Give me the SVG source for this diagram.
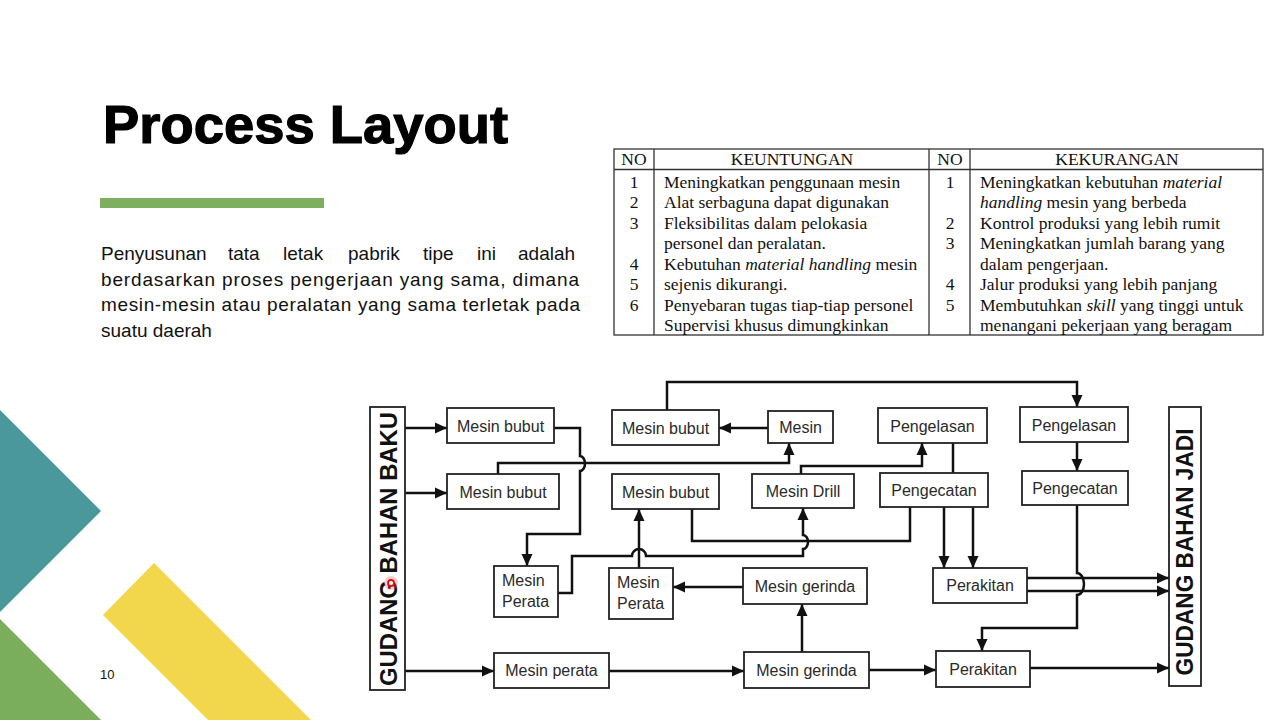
<svg xmlns="http://www.w3.org/2000/svg" width="1280" height="720" viewBox="0 0 1280 720">
<defs>
<style>
.title{font-family:"Liberation Sans",Arial,sans-serif;font-weight:bold;font-size:54px;fill:#000;stroke:#000;stroke-width:1.2}
.para{font-family:"Liberation Sans",Arial,sans-serif;font-size:19px;fill:#111}
.tb{font-family:"Liberation Serif","Times New Roman",serif;font-size:17.5px;fill:#111}
.tline{stroke:#333;stroke-width:1.3;fill:none}
.box{fill:#fff;stroke:#222;stroke-width:1.8}
.lbl{font-family:"Liberation Sans",Arial,sans-serif;font-size:16px;fill:#2a2a2a;text-anchor:middle}
.lbl2{font-family:"Liberation Sans",Arial,sans-serif;font-size:16px;fill:#2a2a2a}
.gud{font-family:"Liberation Sans",Arial,sans-serif;font-weight:bold;fill:#111;text-anchor:middle}
.c{fill:none;stroke:#111;stroke-width:2.5}
.a{marker-end:url(#ah)}
</style>
<marker id="ah" markerUnits="userSpaceOnUse" markerWidth="13" markerHeight="12" refX="12" refY="6" orient="auto">
<path d="M0,0.5 L12,6 L0,11.5 z" fill="#111"/>
</marker>
</defs>
<rect width="1280" height="720" fill="#fff"/>

<!-- decoration -->
<polygon points="0,410 101,511 0,612" fill="#4A979C"/>
<polygon points="0,619 101,720 0,720" fill="#7BAE5C"/>
<polygon points="154,563 311,720 208,720 103,615" fill="#F2D64B"/>
<text x="100" y="679" font-family="'Liberation Sans',Arial,sans-serif" font-size="13" fill="#111">10</text>

<!-- title -->
<text class="title" x="103" y="143" textLength="405" lengthAdjust="spacingAndGlyphs">Process Layout</text>
<rect x="100" y="198" width="224" height="10" fill="#7DAF5E"/>

<!-- paragraph -->
<g class="para">
<text x="101" y="260">Penyusunan</text>
<text x="228" y="260">tata</text>
<text x="283" y="260">letak</text>
<text x="348" y="260">pabrik</text>
<text x="423" y="260">tipe</text>
<text x="477" y="260">ini</text>
<text x="518" y="260">adalah</text>
<text x="101" y="285.5" textLength="478" lengthAdjust="spacing">berdasarkan proses pengerjaan yang sama, dimana</text>
<text x="101" y="311" textLength="479" lengthAdjust="spacing">mesin-mesin atau peralatan yang sama terletak pada</text>
<text x="101" y="336.5">suatu daerah</text>
</g>

<!-- table -->
<g id="table">
<rect class="tline" x="614" y="149" width="649" height="186"/>
<line class="tline" x1="614" y1="169.5" x2="1263" y2="169.5"/>
<line class="tline" x1="654" y1="149" x2="654" y2="335"/>
<line class="tline" x1="929" y1="149" x2="929" y2="335"/>
<line class="tline" x1="970" y1="149" x2="970" y2="335"/>
<g class="tb" text-anchor="middle">
<text x="634" y="165">NO</text>
<text x="792" y="165">KEUNTUNGAN</text>
<text x="950" y="165">NO</text>
<text x="1117" y="165">KEKURANGAN</text>
<text x="634" y="187.5">1</text>
<text x="634" y="208">2</text>
<text x="634" y="228.5">3</text>
<text x="634" y="269.5">4</text>
<text x="634" y="290">5</text>
<text x="634" y="310.5">6</text>
<text x="950" y="187.5">1</text>
<text x="950" y="228.5">2</text>
<text x="950" y="249">3</text>
<text x="950" y="290">4</text>
<text x="950" y="310.5">5</text>
</g>
<g class="tb">
<text x="664" y="187.5">Meningkatkan penggunaan mesin</text>
<text x="664" y="208">Alat serbaguna dapat digunakan</text>
<text x="664" y="228.5">Fleksibilitas dalam pelokasia</text>
<text x="664" y="249">personel dan peralatan.</text>
<text x="664" y="269.5">Kebutuhan <tspan font-style="italic">material handling</tspan> mesin</text>
<text x="664" y="290">sejenis dikurangi.</text>
<text x="664" y="310.5">Penyebaran tugas tiap-tiap personel</text>
<text x="664" y="331">Supervisi khusus dimungkinkan</text>
<text x="980" y="187.5">Meningkatkan kebutuhan <tspan font-style="italic">material</tspan></text>
<text x="980" y="208"><tspan font-style="italic">handling</tspan> mesin yang berbeda</text>
<text x="980" y="228.5">Kontrol produksi yang lebih rumit</text>
<text x="980" y="249">Meningkatkan jumlah barang yang</text>
<text x="980" y="269.5">dalam pengerjaan.</text>
<text x="980" y="290">Jalur produksi yang lebih panjang</text>
<text x="980" y="310.5">Membutuhkan <tspan font-style="italic">skill</tspan> yang tinggi untuk</text>
<text x="980" y="331">menangani pekerjaan yang beragam</text>
</g>
</g>

<!-- connectors -->
<g id="connectors">
<path class="c a" d="M405,428 H447"/>
<path class="c a" d="M405,493 H447"/>
<path class="c a" d="M405,671 H494"/>
<path class="c a" d="M554,428 H580 V456 a5,7.5 0 0 1 0,15 V534 H527 V566"/>
<path class="c a" d="M498,474 V463 H789 V443"/>
<path class="c a" d="M768,428 H719"/>
<path class="c a" d="M667,410 V382 H1077 V407"/>
<path class="c a" d="M1077,442 V471"/>
<path class="c a" d="M1077,505 V573 a7,11 0 0 1 0,22 V628 H982 V651"/>
<path class="c a" d="M1027,578 H1169"/>
<path class="c a" d="M1027,591 H1169"/>
<path class="c a" d="M1030,668 H1169"/>
<path class="c a" d="M609,671 H744"/>
<path class="c a" d="M869,670 H936"/>
<path class="c a" d="M802,652 V604"/>
<path class="c a" d="M743,587 H673"/>
<path class="c a" d="M639,568 V509"/>
<path class="c a" d="M558,593 H572 V556 H632 a7,7 0 0 1 14,0 H803 V549 a5,7 0 0 0 0,-14 V508"/>
<path class="c" d="M692,509 V541 H910 V507"/>
<path class="c a" d="M801,474 V466 H922 V443"/>
<path class="c" d="M953,443 V473"/>
<path class="c a" d="M944,507 V568"/>
<path class="c a" d="M973,507 V568"/>
</g>

<!-- warehouses -->
<g id="gudang-bahan-baku">
<rect class="box" x="370" y="407" width="35" height="283"/>
<text class="gud" font-size="24" transform="translate(397,549) rotate(-90)" textLength="274" lengthAdjust="spacingAndGlyphs">GUDANG BAHAN BAKU</text>
</g>
<g id="gudang-bahan-jadi">
<rect class="box" x="1169" y="407" width="32" height="279"/>
<text class="gud" font-size="23" transform="translate(1193,552) rotate(-90)" textLength="247" lengthAdjust="spacingAndGlyphs">GUDANG BAHAN JADI</text>
</g>

<!-- nodes -->
<g id="mesin-bubut-1"><rect class="box" x="447" y="408" width="107" height="35"/><text class="lbl" x="500.5" y="432">Mesin bubut</text></g>
<g id="mesin-bubut-2"><rect class="box" x="447" y="474" width="112" height="35"/><text class="lbl" x="503" y="498">Mesin bubut</text></g>
<g id="mesin-bubut-3"><rect class="box" x="612" y="410" width="107" height="35"/><text class="lbl" x="665.5" y="434">Mesin bubut</text></g>
<g id="mesin"><rect class="box" x="768" y="411" width="65" height="32"/><text class="lbl" x="800.5" y="433">Mesin</text></g>
<g id="pengelasan-1"><rect class="box" x="878" y="408" width="109" height="35"/><text class="lbl" x="932.5" y="432">Pengelasan</text></g>
<g id="mesin-bubut-4"><rect class="box" x="612" y="474" width="107" height="35"/><text class="lbl" x="665.5" y="498">Mesin bubut</text></g>
<g id="mesin-drill"><rect class="box" x="752" y="474" width="102" height="34"/><text class="lbl" x="803" y="497">Mesin Drill</text></g>
<g id="pengecatan-1"><rect class="box" x="880" y="473" width="108" height="34"/><text class="lbl" x="934" y="496">Pengecatan</text></g>
<g id="pengelasan-2"><rect class="box" x="1020" y="407" width="108" height="35"/><text class="lbl" x="1074" y="431">Pengelasan</text></g>
<g id="pengecatan-2"><rect class="box" x="1022" y="471" width="106" height="34"/><text class="lbl" x="1075" y="494">Pengecatan</text></g>
<g id="mesin-perata-1"><rect class="box" x="494" y="566" width="64" height="51"/><text class="lbl2" x="502" y="586">Mesin</text><text class="lbl2" x="502" y="607">Perata</text></g>
<g id="mesin-perata-2"><rect class="box" x="609" y="568" width="64" height="51"/><text class="lbl2" x="617" y="588">Mesin</text><text class="lbl2" x="617" y="609">Perata</text></g>
<g id="mesin-gerinda-1"><rect class="box" x="743" y="568" width="124" height="36"/><text class="lbl" x="805" y="592">Mesin gerinda</text></g>
<g id="perakitan-1"><rect class="box" x="933" y="568" width="94" height="35"/><text class="lbl" x="980" y="591">Perakitan</text></g>
<g id="mesin-perata-3"><rect class="box" x="494" y="653" width="115" height="35"/><text class="lbl" x="551.5" y="676">Mesin perata</text></g>
<g id="mesin-gerinda-2"><rect class="box" x="744" y="652" width="125" height="36"/><text class="lbl" x="806.5" y="676">Mesin gerinda</text></g>
<g id="perakitan-2"><rect class="box" x="936" y="651" width="94" height="36"/><text class="lbl" x="983" y="675">Perakitan</text></g>

<!-- pointer highlight -->
<circle cx="391" cy="583" r="7" fill="#ff5a5a" opacity="0.3"/>
<circle cx="391" cy="583" r="3" fill="#fff" stroke="#e01010" stroke-width="1.8"/>
</svg>
